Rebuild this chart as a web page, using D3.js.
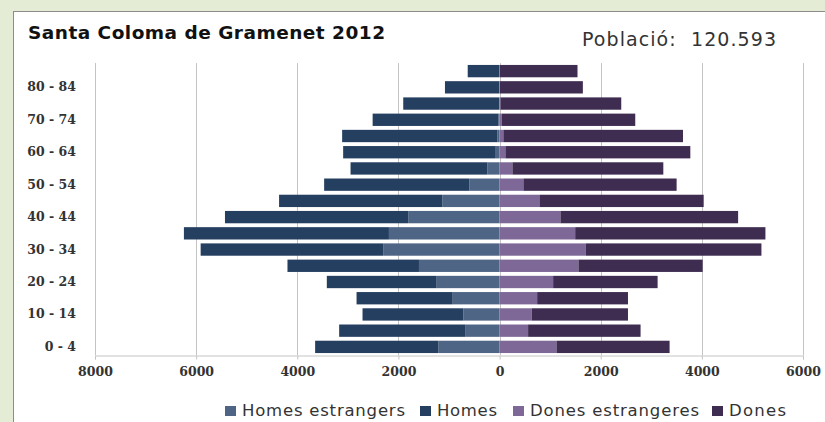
<!DOCTYPE html>
<html>
<head>
<meta charset="utf-8">
<script src="https://cdn.jsdelivr.net/npm/d3@7"></script>
<style>
  body { margin: 0; background: #e4ecd5; }
  svg { display: block; }
</style>
</head>
<body>
<svg id="chart" width="825" height="422"></svg>
<script>
// age groups, bottom to top
var ageGroups = ['0 - 4', '5 - 9', '10 - 14', '15 - 19', '20 - 24', '25 - 29', '30 - 34', '35 - 39',
	'40 - 44', '45 - 49', '50 - 54', '55 - 59', '60 - 64', '65 - 69', '70 - 74', '75 - 79', '80 - 84', '85 +'];

var homesEstrangers = [1212, 671, 717, 927, 1244, 1594, 2301, 2188, 1806, 1133, 598, 240, 90, 45, 20, 10, 5, 5];
var homes = [2435, 2501, 1993, 1901, 2172, 2600, 3610, 4054, 3624, 3227, 2871, 2707, 3003, 3068, 2490, 1895, 1075, 625];
var donesEstrangeres = [1125, 564, 637, 743, 1059, 1560, 1707, 1495, 1204, 788, 471, 254, 115, 75, 40, 20, 8, 5];
var dones = [2237, 2224, 1902, 1796, 2066, 2456, 3471, 3762, 3513, 3248, 3030, 2984, 3657, 3552, 2643, 2386, 1639, 1536];

var xTicks = [-8000, -6000, -4000, -2000, 0, 2000, 4000, 6000];
var shownAges = ['0 - 4', '10 - 14', '20 - 24', '30 - 34', '40 - 44', '50 - 54', '60 - 64', '70 - 74', '80 - 84'];

var seriesNames = ['Homes estrangers', 'Homes', 'Dones estrangeres', 'Dones'];
var seriesColors = ['#4f6585', '#253f61', '#7e6898', '#3f2d51'];

var svg = d3.select('#chart');
var plotLeft = 95, plotRight = 803, plotTop = 63, plotBottom = 355;

// chart frame
svg.append('rect')
	.attr('x', 13.5).attr('y', 11.5)
	.attr('width', 830).attr('height', 430)
	.attr('fill', '#fff').attr('stroke', '#8c8c8c');

svg.append('text')
	.attr('x', 28).attr('y', 39)
	.attr('textLength', 357).attr('lengthAdjust', 'spacing')
	.style('font-family', 'DejaVu Sans, Verdana, sans-serif')
	.style('font-weight', 'bold').style('font-size', '18.5px')
	.attr('fill', '#111')
	.text('Santa Coloma de Gramenet 2012');

svg.append('text')
	.attr('x', 582).attr('y', 46)
	.attr('textLength', 194).attr('lengthAdjust', 'spacing')
	.style('font-family', 'DejaVu Sans, Verdana, sans-serif')
	.style('font-size', '19px')
	.attr('fill', '#333')
	.attr('xml:space', 'preserve')
	.text('Població:  120.593');

var x = d3.scaleLinear().domain([-8000, 6000]).range([plotLeft, plotRight]);
var y = d3.scaleBand().domain(ageGroups).range([plotBottom, plotTop]).paddingInner(0.24).paddingOuter(0.12);

// grid
svg.append('g').selectAll('line')
	.data(xTicks)
	.join('line')
	.attr('x1', function (d) { return Math.round(x(d)) + 0.5; })
	.attr('x2', function (d) { return Math.round(x(d)) + 0.5; })
	.attr('y1', plotTop).attr('y2', plotBottom)
	.attr('stroke', '#c4c4c4');

// stacked bars, men negative
var rows = ageGroups.map(function (a, i) {
	return {age: a, he: -homesEstrangers[i], h: -homes[i], de: donesEstrangeres[i], d: dones[i]};
});
var stack = d3.stack().keys(['he', 'h', 'de', 'd']).offset(d3.stackOffsetDiverging);
var layers = stack(rows);

svg.append('g').selectAll('g')
	.data(layers)
	.join('g')
	.attr('fill', function (d, i) { return seriesColors[i]; })
	.selectAll('rect')
	.data(function (d) { return d; })
	.join('rect')
	.attr('x', function (d) { return x(Math.min(d[0], d[1])); })
	.attr('width', function (d) { return Math.abs(x(d[1]) - x(d[0])); })
	.attr('y', function (d) { return y(d.data.age); })
	.attr('height', y.bandwidth());

// x axis
var xAxis = svg.append('g')
	.attr('transform', 'translate(0,' + (plotBottom + 0.5) + ')')
	.call(d3.axisBottom(x).tickValues(xTicks).tickSize(4).tickPadding(8).tickFormat(function (d) { return Math.abs(d); }));
xAxis.select('.domain').attr('stroke', '#c4c4c4');
xAxis.selectAll('.tick line').attr('stroke', '#c4c4c4');
xAxis.selectAll('text')
	.style('font-family', 'DejaVu Serif, serif')
	.style('font-size', '12.5px').style('font-weight', 'bold')
	.attr('fill', '#333');

// y axis labels
var yAxis = svg.append('g')
	.attr('transform', 'translate(' + plotLeft + ',0)')
	.call(d3.axisLeft(y).tickValues(shownAges).tickSize(0).tickPadding(19));
yAxis.select('.domain').remove();
yAxis.selectAll('text')
	.style('font-family', 'DejaVu Serif, serif')
	.style('font-size', '12.5px').style('font-weight', 'bold')
	.attr('fill', '#333');

// legend
var legendX = [242, 437, 530, 729];
var legendW = [163, 60, 169, 57];
var legend = svg.append('g').selectAll('g')
	.data(seriesNames)
	.join('g')
	.attr('transform', function (d, i) { return 'translate(' + legendX[i] + ',416)'; });
legend.append('rect')
	.attr('x', -17).attr('y', -10).attr('width', 11).attr('height', 10)
	.attr('fill', function (d, i) { return seriesColors[i]; });
legend.append('text')
	.attr('x', 0).attr('y', 0)
	.attr('textLength', function (d, i) { return legendW[i]; })
	.attr('lengthAdjust', 'spacing')
	.style('font-family', 'DejaVu Sans, Verdana, sans-serif')
	.style('font-size', '16.5px')
	.attr('fill', '#333')
	.text(function (d) { return d; });
</script>
</body>
</html>
